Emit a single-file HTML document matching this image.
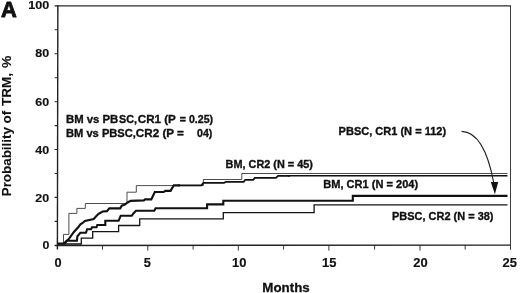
<!DOCTYPE html>
<html><head><meta charset="utf-8">
<style>
html,body{margin:0;padding:0;background:#fff;}
body{width:520px;height:293px;overflow:hidden;}
svg{display:block;will-change:transform;}
text{font-family:"Liberation Sans",sans-serif;font-weight:bold;fill:#111;}
</style></head><body>
<svg width="520" height="293" viewBox="0 0 520 293">
<rect width="520" height="293" fill="#fff"/>
<!-- frame -->
<g stroke="#222" fill="none">
<path d="M57.3 5.85 H510.5" stroke-width="1.15" stroke="#2a2a2a"/>
<path d="M510.5 5.4 V249.8" stroke-width="0.95" stroke="#333"/>
<path d="M57.85 5.3 L57.4 249.6" stroke-width="1.4"/>
<path d="M54.6 245.45 L511 245.05" stroke-width="1.35"/>
<!-- y ticks -->
<path d="M54.6 5.9H57.3 M54.6 53.8H57.3 M54.6 101.7H57.3 M54.6 149.5H57.3 M54.6 197.4H57.3 M54.7 29.8H57.3 M54.7 77.7H57.3 M54.7 125.6H57.3 M54.7 173.5H57.3 M54.7 221.4H57.3" stroke-width="1.1"/>
<!-- x ticks -->
<path d="M147.8 245V250.6 M238.3 245V250.6 M328.9 245V250.6 M420 245V250.6 M102.5 245V249.6 M193.1 245V249.6 M283.6 245V249.6 M374.6 245V249.6 M465.2 245V249.6" stroke-width="0.9"/>
</g>
<!-- curves -->
<g fill="none" stroke-linejoin="miter">
<!-- thin upper: BM CR2 -->
<path d="M57.7 243.6 H63.5 V234.4 H68.9 V213.4 H76.9 V208.4 H85.3 V203.5 H127 V192.2 H136.3 V185.6 H203.4 V179.5 H241.8 V173.5 H507.5" stroke="#3a3a3a" stroke-width="0.9"/>
<!-- thin lower: PBSC CR2 -->
<path d="M57.7 244 H81.3 V238.2 H92.7 V231.7 H118.6 V225.5 H139.7 V218.9 H223.3 V212.6 H314.1 V204.9 H507.5" stroke="#151515" stroke-width="1.3"/>
<!-- thick upper: BM CR1 -->
<path d="M57.5 243.5 H64.5 L69.3 238.4 L73.7 232.2 L78.2 227.3 L80.4 224.4 L82.6 223 L84.9 221 L93.7 219 L98.2 214.1 L102.6 211.5 L107 211.1 L109.3 208.3 H120.2 L121.7 205.7 L124.9 204.6 L127.6 202.5 L130.7 200.9 L143.9 200.4 L145 199.4 H151.3 L154.8 192 H163.7 L165.3 190.8 H170.6 L173.8 185.3 H180" stroke="#111" stroke-width="2.15"/>
<path d="M178 185.3 H201.3 L203.4 182.9 H224 L226.1 181.8 H243.7 L245.3 179.8 H253.2 L254.8 177.9 H275.9 L278.1 175.8 H290" stroke="#111" stroke-width="1.8"/>
<path d="M288 175.8 H507.5" stroke="#111" stroke-width="1.6"/>
<!-- thick lower: PBSC CR1 -->
<path d="M64 243.6 L66.5 240.8 H76.9 L77.4 236.2 L80.4 232.8 H86 L87.1 229.3 H91 L92 227.3 H96.5 L97.3 225 H105.3 V220.8 H118.6 L120.7 215.7 H131.8 L133.4 213.4 L136 210.8 H154.3 L155.6 208.3 H207.1 V204.4 H223.3 V200.8 H352.8 V195.9 H507.5" stroke="#111" stroke-width="2.1"/>
<!-- arrow -->
<path d="M461.6 131.4 C473 131.6 486 141 494 184" stroke="#222" stroke-width="1.15"/>
<path d="M490.8 182 L498.2 182 L494.9 194.2 Z" fill="#111" stroke="none"/>
</g>
<!-- labels -->
<text transform="translate(0.9 17.4) scale(0.96 1)" font-size="22.8" stroke="#111" stroke-width="0.9" stroke-linejoin="round">A</text>
<g font-size="11.5" stroke="#111" stroke-width="0.15" lengthAdjust="spacingAndGlyphs">
<text x="28.2" y="8.5" textLength="21" lengthAdjust="spacingAndGlyphs">100</text>
<text x="35.3" y="57.4" textLength="13.9" lengthAdjust="spacingAndGlyphs">80</text>
<text x="35.3" y="105.8" textLength="13.9" lengthAdjust="spacingAndGlyphs">60</text>
<text x="35.3" y="153.7" textLength="13.9" lengthAdjust="spacingAndGlyphs">40</text>
<text x="35.3" y="202" textLength="13.9" lengthAdjust="spacingAndGlyphs">20</text>
<text x="42.6" y="248.7" textLength="6.9" lengthAdjust="spacingAndGlyphs">0</text>
</g>
<g font-size="12.2" text-anchor="middle" stroke="#111" stroke-width="0.15">
<text x="58.1" y="266.7" textLength="7.1" lengthAdjust="spacingAndGlyphs">0</text>
<text x="147.4" y="266.7" textLength="7.1" lengthAdjust="spacingAndGlyphs">5</text>
<text x="239.3" y="266.7" textLength="14.4" lengthAdjust="spacingAndGlyphs">10</text>
<text x="329.3" y="266.7" textLength="14.4" lengthAdjust="spacingAndGlyphs">15</text>
<text x="420.5" y="266.7" textLength="14.4" lengthAdjust="spacingAndGlyphs">20</text>
<text x="509.7" y="266.7" textLength="14.4" lengthAdjust="spacingAndGlyphs">25</text>
</g>
<text x="262.3" y="291.8" font-size="12.8" textLength="47.4" lengthAdjust="spacingAndGlyphs" stroke="#111" stroke-width="0.3">Months</text>
<g font-size="13.5" stroke="#111" stroke-width="0.1">
<text transform="translate(10.7 196.3) rotate(-90)" textLength="69.2" lengthAdjust="spacingAndGlyphs">Probability</text>
<text transform="translate(10.7 123.6) rotate(-90)">of</text>
<text transform="translate(10.7 106) rotate(-90)">TRM,</text>
<text transform="translate(10.7 68.1) rotate(-90)" textLength="12.4" lengthAdjust="spacingAndGlyphs">%</text>
</g>
<g font-size="11.4" stroke="#111" stroke-width="0.35">
<text x="66" y="122.9" textLength="52.3" lengthAdjust="spacingAndGlyphs" xml:space="preserve">BM vs PB</text>
<text x="119" y="122.9" textLength="18" lengthAdjust="spacingAndGlyphs">SC,</text>
<text x="137.8" y="122.9" textLength="38" lengthAdjust="spacingAndGlyphs" xml:space="preserve">CR1 (P</text>
<text x="179.8" y="122.9" textLength="33.3" lengthAdjust="spacingAndGlyphs" xml:space="preserve">= 0.25)</text>
<text x="66" y="136.6" textLength="69.9" lengthAdjust="spacingAndGlyphs" xml:space="preserve">BM vs PBSC,</text>
<text x="135.8" y="136.6" textLength="48.1" lengthAdjust="spacingAndGlyphs" xml:space="preserve">CR2 (P =</text>
<text x="197" y="136.6" textLength="15.4" lengthAdjust="spacingAndGlyphs">04)</text>
<text x="225.6" y="168.1" textLength="87.3" lengthAdjust="spacingAndGlyphs">BM, CR2 (N = 45)</text>
<text x="323.3" y="187.8" textLength="94.8" lengthAdjust="spacingAndGlyphs">BM, CR1 (N = 204)</text>
<text x="392" y="219.8" textLength="101.5" lengthAdjust="spacingAndGlyphs">PBSC, CR2 (N = 38)</text>
<text x="338.6" y="134.9" textLength="107.5" lengthAdjust="spacingAndGlyphs">PBSC, CR1 (N = 112)</text>
</g>
</svg>
</body></html>
